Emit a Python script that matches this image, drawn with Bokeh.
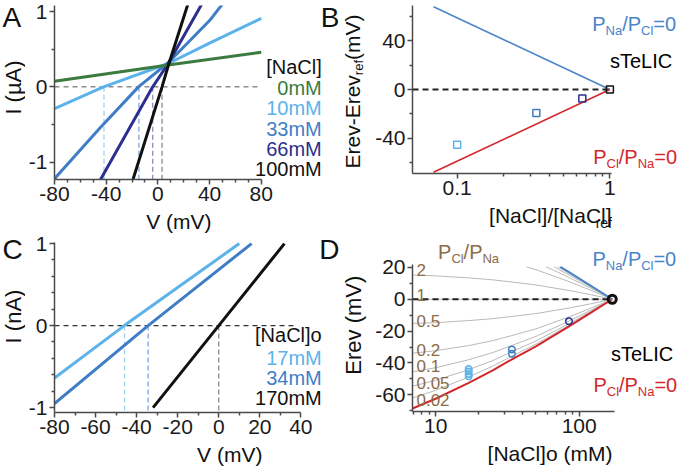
import math
from bokeh.plotting import figure
from bokeh.models import (Label, FixedTicker, CustomJSTickFormatter, Legend, LegendItem,
                          ColumnDataSource, Range1d)
from bokeh.layouts import row, column
from bokeh.embed import file_html
from bokeh.resources import INLINE

FONT = "Liberation Sans"
TICK_PX = "21px"

GREEN = "#3b7b3f"
LBLUE = "#5cb2ea"
MBLUE = "#3f7ec6"
NAVY = "#2c2f8e"
BLACK = "#111111"
RED = "#d2282c"
BROWN = "#8c6b47"
PBLUE = "#4a84c9"
GRAY = "#b9b9b9"
AXIS = "#4a4a4a"

# ---------------- data ----------------
# Panel A: I-V curves (V in mV, I in uA)
A_V_0MM = [-80, 8, 80]
A_I_0MM = [0.075, 0.29, 0.46]
A_V_10MM = [-80, -42, 8, 40, 80]
A_I_10MM = [-0.29, 0.0, 0.31, 0.58, 0.91]
A_V_33MM = [-80, -45, -15, 8, 40, 50]
A_I_33MM = [-1.22, -0.55, 0.0, 0.32, 0.88, 1.10]
A_V_66MM = [-46, -4, 8, 35]
A_I_66MM = [-1.28, 0.0, 0.31, 1.13]
A_V_100MM = [-20, 3.2, 8, 24]
A_I_100MM = [-1.27, 0.0, 0.28, 1.14]
A_EREV = [-41.7, -14.7, -4.0, 3.2]
A_ZERO_V = [-80, 80]
A_LEGEND = ["0mM", "10mM", "33mM", "66mM", "100mM"]

# Panel B: Erev - Erev_ref vs relative NaCl
B_RATIO = [0.1, 0.33, 0.66, 1.0]
B_DEREV = [-45.3, -19.4, -7.4, 0.0]
B_LINE_X = [0.07, 1.0]
B_PNA0 = [68.0, 0.0]
B_PCL0 = [-68.0, 0.0]
B_ZERO_X = [0.051, 1.0]

# Panel C: I-V curves (nA)
C_V_17MM = [-80, -46, 10]
C_I_17MM = [-0.64, 0.0, 1.0]
C_V_34MM = [-80, -34.4, 16]
C_I_34MM = [-0.95, 0.0, 1.0]
C_V_170MM = [-32, 0, 32]
C_I_170MM = [-1.0, 0.0, 1.0]
C_EREV = [-45.9, -34.4, 0.0]
C_ZERO_V = [-80, 37]
C_LEGEND = ["17mM", "34mM", "170mM"]

# Panel D: Erev vs [NaCl]o with GHK curves (PCl/PNa)
D_X = [6.9, 10, 17, 25, 34, 50, 85, 120, 170]
D_R2 = [15.2, 14.7, 13.4, 12.2, 10.8, 9.0, 5.5, 2.9, 0]
D_R1 = [0, 0, 0, 0, 0, 0, 0, 0, 0]
D_R05 = [-15.2, -14.7, -13.4, -12.2, -10.8, -9.0, -5.5, -2.9, 0]
D_R02 = [-33.9, -32.3, -29.1, -26.0, -22.8, -18.6, -11.1, -5.7, 0]
D_R01 = [-45.6, -43.0, -38.0, -33.5, -29.0, -23.3, -13.7, -7.0, 0]
D_R005 = [-54.6, -50.9, -44.2, -38.5, -32.9, -26.2, -15.3, -7.8, 0]
D_R002 = [-62.0, -57.2, -48.8, -42.0, -35.7, -28.2, -16.3, -8.3, 0]
D_PCL0 = [-68.6, -62.5, -52.5, -44.7, -37.7, -29.6, -17.0, -8.6, 0]
D_X_R5 = [43, 50, 85, 120, 170]
D_R5 = [20.3, 18.6, 11.1, 5.7, 0]
D_X_R10 = [59, 85, 120, 170]
D_R10 = [20.3, 13.7, 7.0, 0]
D_X_R20 = [67, 85, 120, 170]
D_R20 = [20.3, 15.3, 7.8, 0]
D_X_R50 = [71, 85, 120, 170]
D_R50 = [20.3, 16.3, 8.3, 0]
D_X_PNA0 = [74, 85, 120, 170]
D_PNA0 = [20.3, 17.0, 8.6, 0]
D_RATIO_LABELS = ["2", "1", "0.5", "0.2", "0.1", "0.05", "0.02"]
D_CONC = [17, 17, 17, 17, 34, 34, 85]
D_EREV = [-43.8, -45.4, -47.0, -48.4, -31.5, -34.2, -13.8]
D_REF_CONC = [170]
D_REF_EREV = [0.0]
D_ZERO_X = [6.9, 170]

# ---------------- geometry (page px, origin at top-left) ----------------
GA = dict(FL=51, FT=5, FW=289, FH=174, x0=-80, x1=141.3, y0=-1.23, y1=1.08, xlog=False)
GB = dict(FL=412, FT=5, FW=268, FH=168, x0=0.051, x1=2.9, y0=-69, y1=69, xlog=True)
GC = dict(FL=51, FT=233, FW=289, FH=179, x0=-80, x1=59.3, y0=-1.06, y1=1.123, xlog=False)
GD = dict(FL=411, FT=233, FW=269, FH=178, x0=6.9, x1=508, y0=-70.5, y1=41.3, xlog=True)


def sgeom(left, top, w, h):
    return dict(FL=left, FT=top, FW=w, FH=h, x0=0, x1=w, y0=0, y1=h, xlog=False)


AW = {' ': 278, '(': 333, ')': 333, '-': 333, '/': 278, '=': 584, '[': 278, ']': 278,
      '.': 278, 'A': 667, 'C': 722, 'E': 667, 'I': 278, 'L': 556, 'M': 833, 'N': 722,
      'P': 667, 'T': 611, 'V': 667, 'a': 556, 'e': 556, 'f': 278, 'l': 222, 'm': 833,
      'n': 556, 'o': 556, 'r': 333, 's': 500, 'v': 500, 'µ': 576}


def tw(s, size):
    return sum(AW.get(c, 556) for c in s) * size / 1000.0


def p2d(g, px, py):
    fx = (px - g["FL"]) / g["FW"]
    fy = (g["FT"] + g["FH"] - py) / g["FH"]
    if g["xlog"]:
        a, b = math.log10(g["x0"]), math.log10(g["x1"])
        x = 10 ** (a + fx * (b - a))
    else:
        x = g["x0"] + fx * (g["x1"] - g["x0"])
    y = g["y0"] + fy * (g["y1"] - g["y0"])
    return x, y


def txt(p, g, px, py, s, size, color, align="left", rotated=False):
    # (px, py) is the left/center point on the text baseline
    if rotated:
        ax, ay = px - 0.35 * size, py
    else:
        ax, ay = px, py - 0.35 * size
    x, y = p2d(g, ax, ay)
    p.add_layout(Label(x=x, y=y, text=s, text_font=FONT, text_font_size=f"{size}px",
                       text_color=color, text_align=align, text_baseline="middle",
                       angle=(math.pi / 2 if rotated else 0.0)))


def rich(p, g, px, py, parts, size, sub_size, color, drop=5, rotated=False):
    for s, sub in parts:
        fs = sub_size if sub else size
        if not rotated:
            txt(p, g, px, py + (drop if sub else 0), s, fs, color)
            px += tw(s, fs)
        else:
            txt(p, g, px + (drop if sub else 0), py, s, fs, color, rotated=True)
            py -= tw(s, fs)


def strip(w, h):
    p = figure(width=w, height=h, output_backend="svg", toolbar_location=None, title=None,
               x_range=Range1d(0, w), y_range=Range1d(0, h), x_axis_type=None,
               y_axis_type=None, min_border=0)
    p.outline_line_color = None
    p.background_fill_color = "white"
    p.border_fill_color = "white"
    return p


def make_fig(g, w, h, bl, bt, bb, xb, yb):
    p = figure(width=w, height=h, output_backend="svg", toolbar_location=None,
               title=None, x_range=Range1d(g["x0"], g["x1"]),
               y_range=Range1d(g["y0"], g["y1"]),
               x_axis_type="log" if g["xlog"] else "linear",
               min_border_left=bl, min_border_right=0, min_border_top=bt,
               min_border_bottom=bb)
    p.outline_line_color = None
    p.xgrid.visible = False
    p.ygrid.visible = False
    p.background_fill_color = "white"
    p.border_fill_color = "white"
    p.xaxis.bounds = xb
    p.yaxis.bounds = yb
    for ax in (p.xaxis[0], p.yaxis[0]):
        ax.axis_line_color = AXIS
        ax.axis_line_width = 1.5
        ax.major_tick_line_color = AXIS
        ax.major_tick_line_width = 1.5
        ax.minor_tick_line_color = AXIS
        ax.minor_tick_line_width = 1.5
        ax.major_tick_in = 0
        ax.major_tick_out = 5
        ax.minor_tick_in = 0
        ax.minor_tick_out = 3
        ax.major_label_text_font = FONT
        ax.major_label_text_font_size = TICK_PX
        ax.major_label_text_color = "#1a1a1a"
        ax.major_label_standoff = 2
        ax.formatter = CustomJSTickFormatter(code="return tick.toString();")
    return p


def key_legend(p, renderer, loc, standoff):
    leg = Legend(items=[LegendItem(label="sTeLIC", renderers=[renderer])], location=loc,
                 border_line_color=None, background_fill_alpha=0, padding=0, margin=0,
                 spacing=0, glyph_width=16, glyph_height=16, label_standoff=standoff,
                 label_height=18, label_width=10, label_text_font=FONT,
                 label_text_font_size="20px", label_text_color="black")
    p.add_layout(leg)


# ================= Panel A =================
pA = make_fig(GA, 315, 209, 26, 5, 30, (-80, 80), (-1.23, 1.08))
pA.xaxis.ticker = FixedTicker(ticks=[-80, -40, 0, 40, 80],
                              minor_ticks=[-70, -60, -50, -30, -20, -10, 10, 20, 30, 50, 60, 70])
pA.yaxis.ticker = FixedTicker(ticks=[-1, 0, 1], minor_ticks=[-0.5, 0.5])
pA.line(A_ZERO_V, [0, 0], line_color="#555555", line_width=1, line_dash="5 4")
pA.segment(x0=A_EREV, y0=[0] * 4, x1=A_EREV, y1=[GA["y0"]] * 4,
           line_color=["#9dcff2", "#7ea6db", "#8e8fb8", "#8a8a8a"], line_width=1.3,
           line_dash="5 3")
for vx, iy, col in [(A_V_10MM, A_I_10MM, LBLUE), (A_V_33MM, A_I_33MM, MBLUE),
                    (A_V_66MM, A_I_66MM, NAVY), (A_V_0MM, A_I_0MM, GREEN),
                    (A_V_100MM, A_I_100MM, BLACK)]:
    pA.line(vx, iy, line_color=col, line_width=3)
txt(pA, GA, 339, 27, "B", 28, BLACK, align="right")
txt(pA, GA, 321, 73, "[NaCl]", 20, BLACK, align="right")
for lab, col, yb in zip(A_LEGEND, [GREEN, LBLUE, MBLUE, NAVY, BLACK],
                        [94, 114.5, 135, 155, 175]):
    txt(pA, GA, 321, yb, lab, 20, col, align="right")

SL1 = sgeom(0, 0, 25, 233)
sL1 = strip(25, 233)
txt(sL1, SL1, 2, 27, "A", 28, BLACK)
txt(sL1, SL1, 20.2, 87, "I (µA)", 22, BLACK, align="center", rotated=True)

SAB = sgeom(25, 209, 315, 24)
sAB = strip(315, 24)
txt(sAB, SAB, 162, 228.3, "V (mV)", 21, BLACK, align="center")

# ================= Panel B =================
pB = make_fig(GB, 308, 203, 40, 5, 30, (0.051, 1.03), (-69, 69))
pB.xaxis.ticker = FixedTicker(ticks=[0.1, 1], minor_ticks=[0.2, 0.3, 0.4, 0.5, 0.6, 0.7, 0.8, 0.9])
pB.yaxis.ticker = FixedTicker(ticks=[-40, 0, 40], minor_ticks=[-60, -20, 20, 60])
pB.line(B_ZERO_X, [0, 0], line_color="#222222", line_width=2, line_dash="6 4")
pB.line(B_LINE_X, B_PNA0, line_color=PBLUE, line_width=1.6)
pB.line(B_LINE_X, B_PCL0, line_color=RED, line_width=1.6)
srcB = ColumnDataSource(dict(x=B_RATIO, y=B_DEREV, c=[LBLUE, MBLUE, NAVY, BLACK]))
pB.scatter("x", "y", source=srcB, marker="square", size=7, fill_color=None,
           line_color="c", line_width=1.5)
proxyB = pB.scatter(x=[], y=[], marker="square", size=7, fill_color=None,
                    line_color=BLACK, line_width=1.5)
key_legend(pB, proxyB, (178, 100), 4)
rich(pB, GB, 591.7, 30, [("P", 0), ("Na", 1), ("/P", 0), ("Cl", 1), ("=0", 0)], 20, 13, PBLUE)
rich(pB, GB, 592.7, 163, [("P", 0), ("Cl", 1), ("/P", 0), ("Na", 1), ("=0", 0)], 20, 13, RED)

SBL = sgeom(340, 0, 32, 233)
sBL = strip(32, 233)
rich(sBL, SBL, 359, 168, [("Erev-Erev", 0), ("ref", 1), (" (mV)", 0)], 21, 13, BLACK,
     drop=4, rotated=True)

SBB = sgeom(372, 203, 308, 30)
sBB = strip(308, 30)
rich(sBB, SBB, 460, 222.2, [("[NaCl]/[NaCl]", 0), ("ref", 1)], 21, 14, BLACK, drop=5)

# ================= Panel C =================
pC = make_fig(GC, 315, 209, 26, 0, 30, (-80, 40), (-1.06, 1.01))
pC.xaxis.ticker = FixedTicker(ticks=[-80, -60, -40, -20, 0, 20, 40],
                              minor_ticks=[-70, -50, -30, -10, 10, 30])
pC.yaxis.ticker = FixedTicker(ticks=[-1, 0, 1],
                              minor_ticks=[-0.8, -0.6, -0.4, -0.2, 0.2, 0.4, 0.6, 0.8])
pC.line(C_ZERO_V, [0, 0], line_color="#333333", line_width=1.2, line_dash="5 4")
pC.segment(x0=C_EREV, y0=[0] * 3, x1=C_EREV, y1=[GC["y0"]] * 3,
           line_color=["#9dcff2", "#7ea6db", "#8a8a8a"], line_width=1.3, line_dash="5 3")
for vx, iy, col in [(C_V_17MM, C_I_17MM, LBLUE), (C_V_34MM, C_I_34MM, MBLUE),
                    (C_V_170MM, C_I_170MM, BLACK)]:
    pC.line(vx, iy, line_color=col, line_width=3)
txt(pC, GC, 339, 259, "D", 28, BLACK, align="right")
txt(pC, GC, 321, 341, "[NaCl]o", 20, BLACK, align="right")
for lab, col, yb in zip(C_LEGEND, [LBLUE, MBLUE, BLACK], [364.7, 384.7, 404.7]):
    txt(pC, GC, 321, yb, lab, 20, col, align="right")

SL2 = sgeom(0, 233, 25, 233)
sL2 = strip(25, 233)
txt(sL2, SL2, 2, 259, "C", 28, BLACK)
txt(sL2, SL2, 20.2, 316, "I (nA)", 22, BLACK, align="center", rotated=True)

SCB = sgeom(25, 442, 315, 24)
sCB = strip(315, 24)
txt(sCB, SCB, 218, 461.3, "V (mV)", 21, BLACK, align="center")

# ================= Panel D =================
pD = make_fig(GD, 308, 208, 39, 0, 30, (6.9, 175), (-70.5, 22))
pD.xaxis.ticker = FixedTicker(ticks=[10, 100],
                              minor_ticks=[7, 8, 9, 20, 30, 40, 50, 60, 70, 80, 90])
pD.yaxis.ticker = FixedTicker(ticks=[-60, -40, -20, 0, 20],
                              minor_ticks=[-70, -50, -30, -10, 10])
for ys in [D_R2, D_R1, D_R05, D_R02, D_R01, D_R005, D_R002]:
    pD.line(D_X, ys, line_color=GRAY, line_width=1)
for xs, ys in [(D_X_R5, D_R5), (D_X_R10, D_R10), (D_X_R20, D_R20), (D_X_R50, D_R50)]:
    pD.line(xs, ys, line_color=GRAY, line_width=1)
pD.line(D_ZERO_X, [0, 0], line_color="#222222", line_width=2, line_dash="6 4")
pD.line(D_X, D_PCL0, line_color=RED, line_width=2)
pD.line(D_X_PNA0, D_PNA0, line_color=PBLUE, line_width=2)
pD.scatter(D_CONC, D_EREV, marker="circle", size=6.5, fill_color=None,
           line_color=[LBLUE] * 4 + [MBLUE] * 2 + [NAVY], line_width=1.5)
pD.scatter(D_REF_CONC, D_REF_EREV, marker="circle", size=8, fill_color=None,
           line_color=BLACK, line_width=3)
proxyD = pD.scatter(x=[], y=[], marker="circle", size=6, fill_color=None,
                    line_color=BLACK, line_width=1.5)
key_legend(pD, proxyD, (183, 45), 0)
rich(pD, GD, 436.7, 258, [("P", 0), ("Cl", 1), ("/P", 0), ("Na", 1)], 20, 13, BROWN)
for lab, yb in zip(D_RATIO_LABELS, [275, 300, 326, 355, 371, 388, 405]):
    txt(pD, GD, 415, yb, lab, 17, BROWN)
rich(pD, GD, 591.7, 265, [("P", 0), ("Na", 1), ("/P", 0), ("Cl", 1), ("=0", 0)], 20, 13, PBLUE)
rich(pD, GD, 592.7, 391, [("P", 0), ("Cl", 1), ("/P", 0), ("Na", 1), ("=0", 0)], 20, 13, RED)

SDL = sgeom(340, 233, 32, 233)
sDL = strip(32, 233)
txt(sDL, SDL, 361, 324.7, "Erev (mV)", 22, BLACK, align="center", rotated=True)

SDB = sgeom(372, 441, 308, 25)
sDB = strip(308, 25)
txt(sDB, SDB, 530, 460.8, "[NaCl]o (mM)", 21, BLACK, align="center")

top = row(sL1, column(pA, sAB), sBL, column(pB, sBB))
bottom = row(sL2, column(pC, sCB), sDL, column(pD, sDB))
page = column(top, bottom)
open("out.html", "w").write(file_html(page, INLINE))
